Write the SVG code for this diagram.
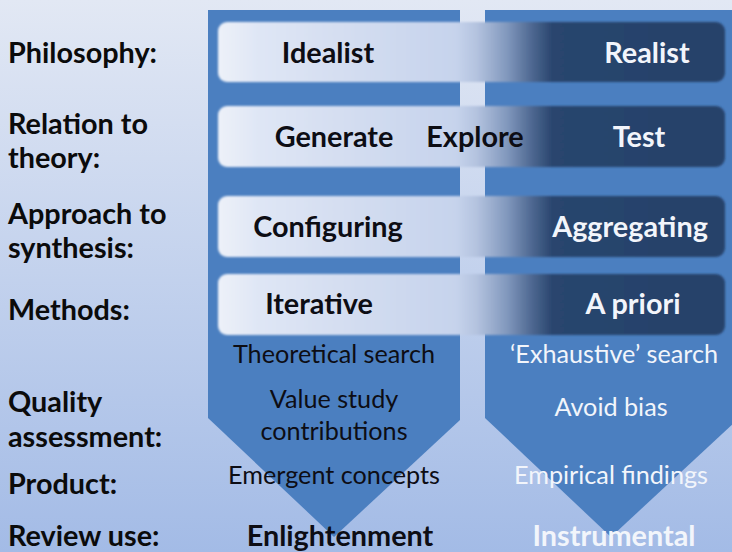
<svg xmlns="http://www.w3.org/2000/svg" width="732" height="552" viewBox="0 0 732 552">
<defs>
<linearGradient id="bg" x1="0" y1="0" x2="0" y2="1">
<stop offset="0" stop-color="#e2e8f4"/>
<stop offset="1" stop-color="#a3bbe6"/>
</linearGradient>
<linearGradient id="bar" x1="218" y1="0" x2="725" y2="0" gradientUnits="userSpaceOnUse">
<stop offset="0" stop-color="#edf1f9"/>
<stop offset="0.08" stop-color="#dfe6f5"/>
<stop offset="0.47" stop-color="#c6d3ec"/>
<stop offset="0.51" stop-color="#b4c3df"/>
<stop offset="0.57" stop-color="#8198bd"/>
<stop offset="0.62" stop-color="#4d6790"/>
<stop offset="0.66" stop-color="#29456e"/>
<stop offset="1" stop-color="#25426a"/>
</linearGradient>
<filter id="soft" x="-5%" y="-20%" width="110%" height="140%">
<feGaussianBlur stdDeviation="1.2"/>
</filter>
<style>
.lbl{font-family:Lato,"Liberation Sans",sans-serif;font-weight:bold;font-size:28.8px;fill:#0b0b0b}
.bt{font-family:Lato,"Liberation Sans",sans-serif;font-weight:bold;font-size:28.8px;text-anchor:middle}
.rt{font-family:Lato,"Liberation Sans",sans-serif;font-size:25.2px;text-anchor:middle}
.dk{fill:#0d0d14}
.wh{fill:#f2f5fb}
.shape{fill:#4b7fc0}
.barr{fill:url(#bar);filter:url(#soft)}
</style>
</defs>
<rect width="732" height="552" fill="url(#bg)"/>
<g id="labels">
<text class="lbl" x="8" y="63">Philosophy:</text>
<text class="lbl" x="8" y="134">Relation to</text>
<text class="lbl" x="8" y="168">theory:</text>
<text class="lbl" x="8" y="224">Approach to</text>
<text class="lbl" x="8" y="258">synthesis:</text>
<text class="lbl" x="8" y="320">Methods:</text>
<text class="lbl" x="8" y="412">Quality</text>
<text class="lbl" x="8" y="447">assessment:</text>
<text class="lbl" x="8" y="494">Product:</text>
<text class="lbl" x="8" y="546">Review use:</text>
</g>
<g id="left-arrow">
<polygon class="shape" points="208,10 460,10 460,420 334,537 208,418"/>
</g>
<g id="right-arrow">
<polygon class="shape" points="485,10 737,10 737,420 611,537 485,418"/>
</g>
<g id="row-philosophy">
<rect class="barr" x="218" y="22" width="507" height="60" rx="9"/>
<text class="bt dk" x="328" y="63">Idealist</text>
<text class="bt wh" x="647" y="63">Realist</text>
</g>
<g id="row-theory">
<rect class="barr" x="218" y="106" width="507" height="61" rx="9"/>
<text class="bt dk" x="334" y="147">Generate</text>
<text class="bt dk" x="475" y="147">Explore</text>
<text class="bt wh" x="639" y="147">Test</text>
</g>
<g id="row-synthesis">
<rect class="barr" x="218" y="196" width="507" height="61" rx="9"/>
<text class="bt dk" x="328" y="237">Configuring</text>
<text class="bt wh" x="630" y="237">Aggregating</text>
</g>
<g id="row-methods">
<rect class="barr" x="218" y="274" width="507" height="61" rx="9"/>
<text class="bt dk" x="319" y="314">Iterative</text>
<text class="bt wh" x="633" y="314">A priori</text>
</g>
<g id="details">
<text class="rt dk" x="334" y="363">Theoretical search</text>
<text class="rt wh" x="614" y="363">‘Exhaustive’ search</text>
<text class="rt dk" x="334" y="408">Value study</text>
<text class="rt dk" x="334" y="440">contributions</text>
<text class="rt wh" x="611" y="416">Avoid bias</text>
<text class="rt dk" x="334" y="484">Emergent concepts</text>
<text class="rt wh" x="611" y="484">Empirical findings</text>
<text class="bt dk" x="340" y="546">Enlightenment</text>
<text class="bt wh" x="614" y="546">Instrumental</text>
</g>
</svg>
